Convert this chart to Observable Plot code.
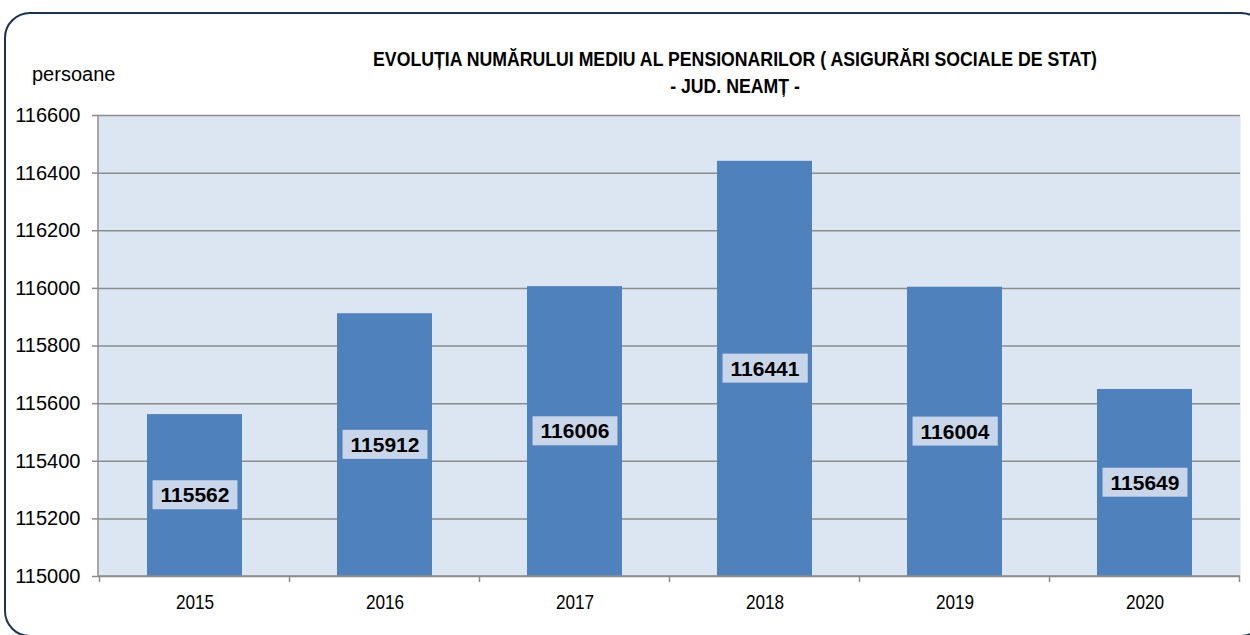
<!DOCTYPE html>
<html>
<head>
<meta charset="utf-8">
<script src="https://cdn.jsdelivr.net/npm/d3@7"></script>
<script src="https://cdn.jsdelivr.net/npm/@observablehq/plot@0.6"></script>
<style>
  html, body { margin: 0; padding: 0; background: #fff; overflow: hidden; }
  #wrap { position: relative; width: 1250px; height: 635px; overflow: hidden; font-family: "Liberation Sans", Arial, sans-serif; }
  #border { position: absolute; left: 4px; top: 12px; width: 1263px; height: 625px; border: 2px solid #1b3350; border-radius: 26px; box-sizing: border-box; }
  #title { position: absolute; left: 235px; width: 1000px; top: 46px; text-align: center; font-weight: bold; font-size: 20px; line-height: 26.5px; color: #000; transform: scaleX(0.884); transform-origin: 500px 0; white-space: nowrap; }
  #ylab { position: absolute; left: 32px; top: 63px; font-size: 20px; color: #000; }
  #chart { position: absolute; left: 0; top: 0; }
</style>
</head>
<body>
<div id="wrap">
  <div id="border"></div>
  <div id="chart"></div>
  <div id="title">EVOLUȚIA NUMĂRULUI MEDIU AL PENSIONARILOR ( ASIGURĂRI SOCIALE DE STAT)<br>- JUD. NEAMȚ -</div>
  <div id="ylab">persoane</div>
</div>
<script>
const years = ["2015", "2016", "2017", "2018", "2019", "2020"];
const values = [115562, 115912, 116006, 116441, 116004, 115649];
const yTicks = [115000, 115200, 115400, 115600, 115800, 116000, 116200, 116400, 116600];
const yMin = 115000, yMax = 116600;

const data = years.map((year, i) => ({year, value: values[i]}));

function axisLines(index, scales, values, dims) {
  const x = scales.x;
  const step = x.step(), bw = x.bandwidth();
  const g = d3.create("svg:g");
  const left = dims.marginLeft, right = dims.width - dims.marginRight;
  const top = dims.marginTop, bottom = dims.height - dims.marginBottom;
  const bounds = years.map(y => x(y) - (step - bw) / 2).concat([x(years[years.length - 1]) + bw + (step - bw) / 2]);
  g.append("line").attr("x1", left).attr("x2", left).attr("y1", top).attr("y2", bottom)
    .attr("stroke", "#8c8c8c").attr("stroke-width", 1.5);
  g.append("line").attr("x1", left).attr("x2", right).attr("y1", bottom).attr("y2", bottom)
    .attr("stroke", "#8c8c8c").attr("stroke-width", 1.5);
  for (const b of bounds) {
    g.append("line").attr("x1", b).attr("x2", b).attr("y1", bottom).attr("y2", bottom + 6)
      .attr("stroke", "#8c8c8c").attr("stroke-width", 1.5);
  }
  return g.node();
}

const plot = Plot.plot({
  width: 1250,
  height: 635,
  marginTop: 115,
  marginBottom: 59,
  marginLeft: 98,
  marginRight: 10,
  style: {background: "transparent", fontFamily: "'Liberation Sans', Arial, sans-serif", color: "#000", overflow: "visible"},
  x: {domain: years, paddingInner: 0.5, paddingOuter: 0.25, label: null},
  y: {domain: [yMin, yMax], label: null},
  marks: [
    Plot.frame({fill: "#dce6f2", stroke: null}),
    Plot.gridY(yTicks, {stroke: "#8c8c8c", strokeOpacity: 1, strokeWidth: 1.5}),
    Plot.barY(data, {x: "year", y1: yMin, y2: "value", fill: "#4f81bd"}),
    axisLines,
    Plot.axisY(yTicks, {tickSize: 6, tickPadding: 12, fontSize: 20, tickFormat: d => String(d), stroke: "#8c8c8c", strokeWidth: 1.5, label: null}),
    Plot.axisX({tickSize: 0, tickPadding: 18, fontSize: 20, label: null}),
    Plot.text(data, {x: "year", y: d => (yMin + d.value) / 2, text: d => String(d.value), fontWeight: "bold", fontSize: 21, fill: "#000"})
  ]
});

document.getElementById("chart").appendChild(plot);

// condensed x tick labels
plot.querySelectorAll('g[aria-label="x-axis tick label"] text').forEach(t => {
  const tr = t.getAttribute("transform") || "";
  t.setAttribute("transform", tr + " scale(0.86,1)");
});

// label boxes behind the value labels
plot.querySelectorAll('g[aria-label="text"] text').forEach(t => {
  const b = t.getBBox();
  const r = document.createElementNS("http://www.w3.org/2000/svg", "rect");
  const tr = t.getAttribute("transform");
  if (tr) r.setAttribute("transform", tr);
  r.setAttribute("x", b.x - 8);
  r.setAttribute("y", b.y - 3);
  r.setAttribute("width", b.width + 16);
  r.setAttribute("height", b.height + 6);
  r.setAttribute("fill", "#c9d6ea");
  t.parentNode.insertBefore(r, t);
});
</script>
</body>
</html>
